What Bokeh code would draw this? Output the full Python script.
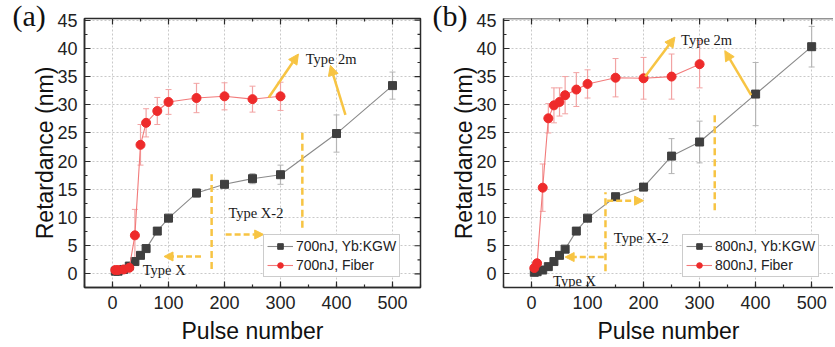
import math
from bokeh.plotting import figure
from bokeh.models import (Range1d, Whisker, ColumnDataSource, Arrow, Span,
                          NormalHead, Label, SingleIntervalTicker)
from bokeh.layouts import row
from bokeh.embed import file_html
from bokeh.resources import INLINE

# ---------------- data ----------------
x_kgw = [5, 10, 20, 30, 40, 50, 60, 80, 100, 150, 200, 250, 300, 400, 500]
x_fib = [5, 10, 20, 30, 40, 50, 60, 80, 100, 150, 200, 250, 300]

a_kgw = [0.5, 0.5, 0.8, 1.4, 2.2, 3.3, 4.5, 7.6, 9.9, 14.35, 15.9, 16.9, 17.6, 24.9, 33.4]
a_kgw_err = [0.2, 0.2, 0.2, 0.3, 0.3, 0.3, 0.3, 0.3, 0.4, 0.7, 0.6, 0.9, 1.7, 3.3, 2.4]
a_fib = [0.7, 0.7, 0.8, 1.1, 6.85, 22.9, 26.8, 28.9, 30.5, 31.2, 31.5, 31.0, 31.5]
a_fib_err = [0.2, 0.2, 0.2, 0.3, 4.6, 3.6, 2.5, 2.4, 2.2, 2.6, 2.4, 2.3, 2.5]

b_kgw = [0.3, 0.4, 0.7, 1.3, 2.2, 3.3, 4.4, 7.6, 9.9, 13.7, 15.4, 20.9, 23.4, 31.9, 40.3]
b_kgw_err = [0.2, 0.2, 0.2, 0.2, 0.3, 0.3, 0.3, 0.3, 0.3, 0.4, 0.4, 3.1, 3.7, 5.6, 3.6]
b_fib = [1.05, 1.9, 15.3, 27.6, 29.9, 30.5, 31.7, 32.7, 33.7, 34.8, 34.7, 35.0, 37.2]
b_fib_err = [0.3, 0.4, 4.2, 2.6, 3.1, 2.5, 3.3, 3.0, 2.5, 3.4, 3.7, 4.0, 4.2]

a_labels = ["700nJ, Yb:KGW", "700nJ, Fiber"]
b_labels = ["800nJ, Yb:KGW", "800nJ, Fiber"]

YEL = "#F7C443"
AX = "#2b2b2b"
SANS = "Liberation Sans"
SERIF = "Liberation Serif"
Y0, Y1 = -2.4, 45.3
H = 347
FRAME_H = 271


def style_axis(ax):
    ax.axis_line_color = AX
    ax.axis_line_width = 1.5
    ax.major_tick_in = 6
    ax.major_tick_out = 0
    ax.minor_tick_in = 3
    ax.minor_tick_out = 0
    ax.major_tick_line_color = AX
    ax.minor_tick_line_color = AX
    ax.major_tick_line_width = 1.2
    ax.minor_tick_line_width = 1.2
    ax.major_label_text_font = SANS
    ax.major_label_text_font_size = "18px"
    ax.major_label_text_color = "#222222"
    ax.axis_label_text_font = SANS
    ax.axis_label_text_font_size = "23px"
    ax.axis_label_text_font_style = "normal"
    ax.axis_label_text_color = "#111111"


def make_panel(tag, kgw, kgw_err, fib, fib_err, labels, width, top, xend,
               right_frame, border_left, border_right, tag_offset):
    p = figure(width=width, height=H, output_backend="svg", toolbar_location=None,
               x_range=Range1d(-50, xend), y_range=Range1d(Y0, Y1),
               min_border_left=border_left, min_border_right=border_right,
               min_border_top=top, min_border_bottom=H - top - FRAME_H,
               background_fill_color="white", border_fill_color="white")
    p.xaxis.ticker = SingleIntervalTicker(interval=100, num_minor_ticks=2)
    p.yaxis.ticker = SingleIntervalTicker(interval=5, num_minor_ticks=2)
    p.xaxis.axis_label = "Pulse number"
    p.yaxis.axis_label = "Retardance (nm)"
    style_axis(p.xaxis[0])
    style_axis(p.yaxis[0])
    p.xaxis.major_label_standoff = 8
    p.yaxis.major_label_standoff = 7
    p.xaxis.axis_label_standoff = 6
    p.yaxis.axis_label_standoff = -4

    # panel tag as the (left aligned) title
    p.title.text = tag
    p.title.text_font = SERIF
    p.title.text_font_size = "30px"
    p.title.text_font_style = "normal"
    p.title.text_color = "#111111"
    p.title.align = "left"
    p.title.offset = tag_offset
    p.title.standoff = -26

    if right_frame:
        p.outline_line_color = AX
        p.outline_line_width = 1.5
        p.outline_line_alpha = 1
    else:
        p.outline_line_color = None
        p.add_layout(Span(location=Y1, dimension="width", line_color=AX, line_width=1.5))

    # inward ticks on the top (and right) edges
    top_major = list(range(0, 501, 100))
    top_minor = list(range(-50, 551, 100))
    p.scatter(top_major, [Y1] * len(top_major), marker="dash", angle=math.pi / 2,
              size=12, line_color=AX, line_width=1.2)
    p.scatter(top_minor, [Y1] * len(top_minor), marker="dash", angle=math.pi / 2,
              size=6, line_color=AX, line_width=1.2)
    if right_frame:
        r_major = [5 * i for i in range(0, 10)]
        r_minor = [2.5 + 5 * i for i in range(0, 9)]
        p.scatter([xend] * len(r_major), r_major, marker="dash", size=12,
                  line_color=AX, line_width=1.2)
        p.scatter([xend] * len(r_minor), r_minor, marker="dash", size=6,
                  line_color=AX, line_width=1.2)

    p.grid.grid_line_color = "#c9c9c9"
    p.grid.grid_line_dash = "2 2"
    p.grid.grid_line_width = 1

    sk = ColumnDataSource(dict(x=x_kgw, y=kgw, lo=[v - e for v, e in zip(kgw, kgw_err)],
                               hi=[v + e for v, e in zip(kgw, kgw_err)]))
    sf = ColumnDataSource(dict(x=x_fib, y=fib, lo=[v - e for v, e in zip(fib, fib_err)],
                               hi=[v + e for v, e in zip(fib, fib_err)]))
    for src, col in ((sk, "#b5b5b5"), (sf, "#f2a3a3")):
        w = Whisker(source=src, base="x", lower="lo", upper="hi",
                    line_color=col, line_width=1.2)
        w.upper_head.size = 6
        w.lower_head.size = 6
        w.upper_head.line_color = col
        w.lower_head.line_color = col
        p.add_layout(w)

    p.line("x", "y", source=sk, line_color="#8a8a8a", line_width=1.1, legend_label=labels[0])
    p.scatter("x", "y", source=sk, marker="square", size=8, fill_color="#3f3f3f",
              line_color="#3f3f3f", legend_label=labels[0])
    p.line("x", "y", source=sf, line_color="#f27a7a", line_width=1.1, legend_label=labels[1])
    p.scatter("x", "y", source=sf, marker="circle", size=9, fill_color="#ee2b2b",
              line_color="#ee2b2b", legend_label=labels[1])

    lg = p.legend[0]
    lg.location = (179, 10)
    lg.label_text_font = SANS
    lg.label_text_font_size = "14px"
    lg.label_text_color = "#222222"
    lg.glyph_width = 26
    lg.glyph_height = 14
    lg.label_height = 14
    lg.label_standoff = 3
    lg.spacing = 3
    lg.padding = 3
    lg.margin = 0
    lg.border_line_color = "#9a9a9a"
    lg.border_line_width = 1
    lg.background_fill_alpha = 1
    return p


def add_texts(p, items):
    for (x, y, t) in items:
        p.add_layout(Label(x=x, y=y, text=t, text_font=SERIF, text_font_size="14.5px",
                           text_baseline="middle", text_color="#1a1a1a"))


def arrow(p, x0, y0, x1, y1, dashed=False):
    head = NormalHead(size=9 if dashed else 10, fill_color=YEL, line_color=YEL)
    a = Arrow(end=head, x_start=x0, y_start=y0, x_end=x1, y_end=y1,
              line_color=YEL, line_width=2.5)
    if dashed:
        a.line_dash = "6 3"
    p.add_layout(a)


def vdash(p, x, y0, y1):
    p.line([x, x], [y0, y1], line_color=YEL, line_width=2.5, line_dash="7 4")


pa = make_panel("(a)", a_kgw, a_kgw_err, a_fib, a_fib_err, a_labels,
                width=428, top=16, xend=550, right_frame=True, border_left=84,
                border_right=8, tag_offset=-72)
vdash(pa, 177, 0.9, 17.7)
vdash(pa, 339, 8.2, 25.2)
arrow(pa, 158, 3.1, 92, 3.1, dashed=True)
arrow(pa, 202, 7.0, 270, 7.0, dashed=True)
arrow(pa, 279, 31.3, 332, 39.0)
arrow(pa, 416, 28.2, 389, 37.0)
add_texts(pa, [(54, 0.76, "Type X"), (207, 10.8, "Type X-2"), (345, 38.2, "Type 2m")])

pb = make_panel("(b)", b_kgw, b_kgw_err, b_fib, b_fib_err, b_labels,
                width=405, top=18, xend=539, right_frame=False, border_left=75,
                border_right=0, tag_offset=-71)
vdash(pb, 132, 0.5, 14.5)
vdash(pb, 327, 11.3, 28.7)
arrow(pb, 129, 3.0, 60, 3.0, dashed=True)
arrow(pb, 135, 13.0, 200, 13.0, dashed=True)
arrow(pb, 203, 35.0, 256, 42.0)
arrow(pb, 392, 31.7, 345, 39.6)
add_texts(pb, [(38.5, -1.17, "Type X"), (147, 6.4, "Type X-2"), (267, 41.5, "Type 2m")])

layout = row(pa, pb)
open("out.html", "w").write(file_html(layout, INLINE))
